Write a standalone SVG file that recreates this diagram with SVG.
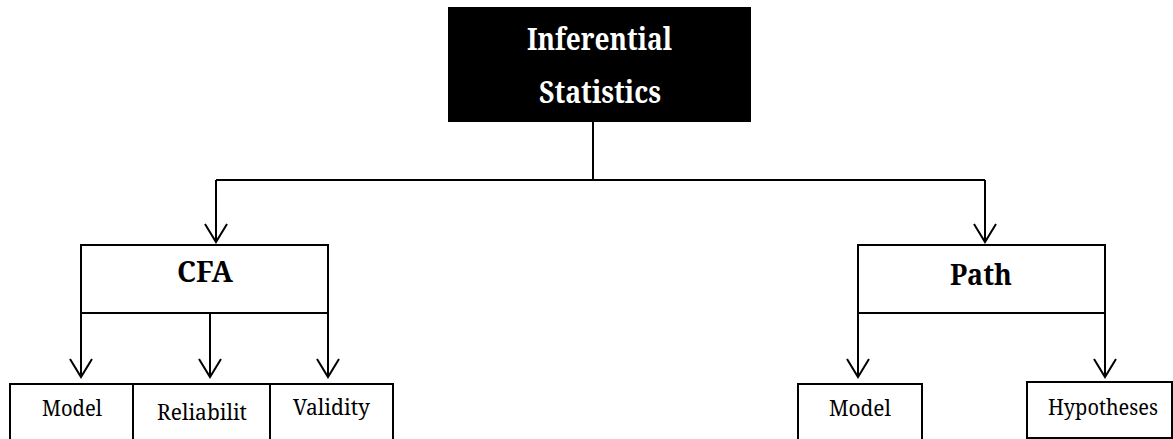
<svg xmlns="http://www.w3.org/2000/svg" width="1173" height="439" viewBox="0 0 1173 439">
  <style>
    .box { fill: #ffffff; stroke: #000000; stroke-width: 2; }
    .dark { fill: #000000; stroke: none; }
    .wire { fill: none; stroke: #000000; stroke-width: 2; }
    .arrow { fill: none; stroke: #000000; stroke-width: 2; marker-end: url(#vhead); }
    text { font-family: 'Noto Serif', 'DejaVu Serif', serif; text-anchor: middle; }
    .title { font-weight: bold; font-size: 30px; fill: #ffffff; }
    .head { font-weight: bold; font-size: 28px; fill: #000000; }
    .leaf { font-size: 21px; fill: #000000; }
  </style>
  <defs>
    <!-- open V arrowhead, drawn pointing along +x -->
    <marker id="vhead" markerUnits="userSpaceOnUse" viewBox="0 0 20 24" refX="19" refY="12" markerWidth="20" markerHeight="24" orient="auto" overflow="visible">
      <path d="M1,1 L19,12 L1,23" fill="none" stroke="#000000" stroke-width="2"/>
    </marker>
  </defs>

  <rect width="1173" height="439" fill="#ffffff"/>

  <!-- connectors -->
  <g id="connectors">
    <path class="wire" d="M593,122 V180"/>
    <path class="wire" d="M216,180 H985"/>
    <path class="arrow" d="M216,180 V242"/>
    <path class="arrow" d="M985,180 V242"/>
    <path class="arrow" d="M81,313 V377"/>
    <path class="arrow" d="M210,313 V377"/>
    <path class="arrow" d="M328,313 V377"/>
    <path class="arrow" d="M858,313 V377"/>
    <path class="arrow" d="M1105,313 V377"/>
  </g>

  <!-- root -->
  <g id="inferential-statistics">
    <rect class="dark" x="448" y="7" width="303" height="115"/>
    <text class="title" x="599.5" y="50" textLength="145" lengthAdjust="spacingAndGlyphs">Inferential</text>
    <text class="title" x="600" y="103" textLength="122" lengthAdjust="spacingAndGlyphs">Statistics</text>
  </g>

  <!-- second level -->
  <g id="cfa">
    <rect class="box" x="81" y="245" width="247" height="68"/>
    <text class="head" x="205" y="282" textLength="56" lengthAdjust="spacingAndGlyphs">CFA</text>
  </g>
  <g id="path">
    <rect class="box" x="858" y="245" width="247" height="68"/>
    <text class="head" x="981" y="285" textLength="62" lengthAdjust="spacingAndGlyphs">Path</text>
  </g>

  <!-- CFA leaves -->
  <g id="cfa-model">
    <rect class="box" x="10" y="384" width="123" height="60"/>
    <text class="leaf" x="72" y="416" textLength="60" lengthAdjust="spacingAndGlyphs">Model</text>
  </g>
  <g id="cfa-reliability">
    <rect class="box" x="133" y="384" width="137" height="60"/>
    <text class="leaf" x="202" y="420" textLength="90" lengthAdjust="spacingAndGlyphs">Reliabilit</text>
  </g>
  <g id="cfa-validity">
    <rect class="box" x="270" y="384" width="123" height="60"/>
    <text class="leaf" x="331.5" y="415" textLength="77" lengthAdjust="spacingAndGlyphs">Validity</text>
  </g>

  <!-- Path leaves -->
  <g id="path-model">
    <rect class="box" x="798" y="384" width="124" height="60"/>
    <text class="leaf" x="860" y="416" textLength="62" lengthAdjust="spacingAndGlyphs">Model</text>
  </g>
  <g id="path-hypotheses">
    <rect class="box" x="1027" y="382" width="145" height="56"/>
    <text class="leaf" x="1103" y="415" textLength="110" lengthAdjust="spacingAndGlyphs">Hypotheses</text>
  </g>
</svg>
